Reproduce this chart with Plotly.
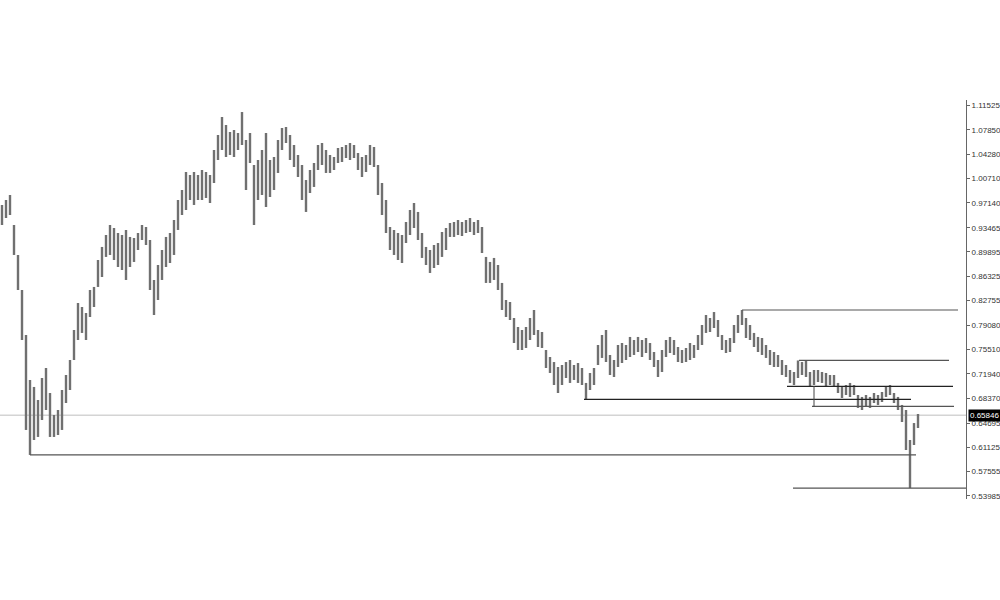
import plotly.graph_objects as go

# Bar highs / lows (price), one entry per bar
highs = [
    0.9681, 0.9754, 0.9828, 0.9386, 0.8945, 0.8429, 0.7767, 0.7105, 0.7002, 0.6810,
    0.7134, 0.7281, 0.6913, 0.6589, 0.6663, 0.6957, 0.7178, 0.7399, 0.7841, 0.8238,
    0.8179, 0.8091, 0.8429, 0.8474, 0.8871, 0.9063, 0.9239, 0.9386, 0.9342, 0.9268,
    0.9239, 0.9313, 0.9210, 0.9195, 0.9268, 0.9386, 0.9357, 0.9165, 0.8577, 0.8797,
    0.9018, 0.9210, 0.9268, 0.9460, 0.9754, 0.9901, 1.0166, 1.0122, 1.0166, 1.0122,
    1.0196, 1.0166, 1.0122, 1.0490, 1.0711, 1.0976, 1.0858, 1.0755, 1.0784, 1.0740,
    1.1049, 1.0637, 1.0740, 1.0269, 1.0343, 1.0490, 1.0740, 1.0343, 1.0387, 1.0637,
    1.0814, 1.0829, 1.0711, 1.0564, 1.0417, 1.0269, 1.0048, 1.0196, 1.0299, 1.0564,
    1.0593, 1.0490, 1.0417, 1.0387, 1.0520, 1.0534, 1.0564, 1.0593, 1.0564, 1.0446,
    1.0387, 1.0417, 1.0564, 1.0534, 1.0269, 1.0004, 0.9754, 0.9357, 0.9313, 0.9268,
    0.9239, 0.9430, 0.9607, 0.9710, 0.9578, 0.9268, 0.9063, 0.9018, 0.9092, 0.9121,
    0.9283, 0.9342, 0.9416, 0.9430, 0.9460, 0.9430, 0.9460, 0.9489, 0.9430, 0.9460,
    0.9357, 0.8916, 0.8842, 0.8901, 0.8797, 0.8533, 0.8282, 0.8253, 0.8017, 0.7885,
    0.7841, 0.7885, 0.8017, 0.8135, 0.7841, 0.7811, 0.7546, 0.7443, 0.7369, 0.7296,
    0.7325, 0.7369, 0.7399, 0.7325, 0.7355, 0.7281, 0.7061, 0.7208, 0.7281, 0.7620,
    0.7767, 0.7841, 0.7473, 0.7399, 0.7620, 0.7649, 0.7620, 0.7738, 0.7693, 0.7738,
    0.7693, 0.7723, 0.7649, 0.7517, 0.7399, 0.7546, 0.7693, 0.7738, 0.7693, 0.7590,
    0.7546, 0.7576, 0.7649, 0.7620, 0.7767, 0.7914, 0.8061, 0.8017, 0.8105, 0.7988,
    0.7767, 0.7693, 0.7723, 0.7914, 0.8061, 0.8135, 0.8017, 0.7914, 0.7797, 0.7738,
    0.7723, 0.7620, 0.7546, 0.7517, 0.7473, 0.7399, 0.7325, 0.7252, 0.7222, 0.7392,
    0.7369, 0.7399, 0.7222, 0.7252, 0.7252, 0.7222, 0.7208, 0.7178, 0.7178, 0.7061,
    0.7002, 0.7031, 0.7061, 0.7031, 0.6884, 0.6855, 0.6884, 0.6855, 0.6913, 0.6884,
    0.6928, 0.7002, 0.7031, 0.6913, 0.6855, 0.6737, 0.6663, 0.6221, 0.6471, 0.6604,
]
lows = [
    0.9386, 0.9489, 0.9533, 0.8945, 0.8429, 0.7693, 0.6369, 0.6001, 0.6221, 0.6266,
    0.6516, 0.6663, 0.6266, 0.6266, 0.6295, 0.6369, 0.6766, 0.6957, 0.7399, 0.7693,
    0.7797, 0.7693, 0.8032, 0.8179, 0.8474, 0.8621, 0.8916, 0.8945, 0.8871, 0.8768,
    0.8724, 0.8577, 0.8768, 0.8842, 0.9018, 0.9165, 0.9092, 0.8429, 0.8061, 0.8282,
    0.8577, 0.8768, 0.8827, 0.8945, 0.9313, 0.9533, 0.9607, 0.9754, 0.9681, 0.9754,
    0.9754, 0.9784, 0.9710, 1.0004, 1.0343, 1.0490, 1.0387, 1.0417, 1.0387, 1.0490,
    1.0564, 0.9901, 1.0299, 0.9386, 0.9754, 0.9828, 0.9651, 0.9798, 0.9901, 1.0152,
    1.0490, 1.0593, 1.0343, 1.0240, 1.0093, 0.9754, 0.9578, 0.9857, 0.9946, 1.0196,
    1.0269, 1.0152, 1.0152, 1.0196, 1.0299, 1.0313, 1.0372, 1.0343, 1.0372, 1.0196,
    1.0093, 1.0166, 1.0269, 1.0240, 0.9828, 0.9533, 0.9268, 0.9018, 0.8945, 0.8871,
    0.8827, 0.9121, 0.9239, 0.9342, 0.9165, 0.8901, 0.8797, 0.8680, 0.8753, 0.8797,
    0.8916, 0.9018, 0.9210, 0.9210, 0.9239, 0.9224, 0.9268, 0.9283, 0.9239, 0.9268,
    0.8974, 0.8533, 0.8533, 0.8577, 0.8429, 0.8135, 0.8032, 0.7988, 0.7649, 0.7546,
    0.7546, 0.7576, 0.7693, 0.7767, 0.7590, 0.7576, 0.7281, 0.7208, 0.7031, 0.6913,
    0.7031, 0.7134, 0.7061, 0.7105, 0.7061, 0.7031, 0.6819, 0.6957, 0.7031, 0.7325,
    0.7429, 0.7369, 0.7178, 0.7149, 0.7296, 0.7355, 0.7399, 0.7443, 0.7473, 0.7517,
    0.7443, 0.7502, 0.7399, 0.7296, 0.7149, 0.7222, 0.7443, 0.7502, 0.7473, 0.7369,
    0.7355, 0.7369, 0.7399, 0.7429, 0.7546, 0.7620, 0.7797, 0.7811, 0.7870, 0.7738,
    0.7546, 0.7502, 0.7517, 0.7649, 0.7797, 0.7914, 0.7723, 0.7693, 0.7590, 0.7517,
    0.7473, 0.7429, 0.7325, 0.7296, 0.7296, 0.7178, 0.7149, 0.7061, 0.7031, 0.7134,
    0.7178, 0.7149, 0.7002, 0.7031, 0.7075, 0.7061, 0.7002, 0.7031, 0.7002, 0.6913,
    0.6840, 0.6884, 0.6855, 0.6884, 0.6693, 0.6663, 0.6707, 0.6693, 0.6766, 0.6737,
    0.6781, 0.6855, 0.6884, 0.6766, 0.6663, 0.6486, 0.6074, 0.5514, 0.6148, 0.6398,
]

# Horizontal support / resistance lines: price level, start bar, end bar
line_levels = [0.6001, 0.8135, 0.7392, 0.7011, 0.6819, 0.6716, 0.5513]
line_starts = [7, 185, 199.25, 196.25, 145.5, 202.5, 197.75]
line_ends = [228.5, 239, 236.75, 237.75, 227.25, 238, 241]
line_colors = ["#555555", "#555555", "#555555", "#222222", "#222222", "#555555", "#555555"]

# vertical connector
vline_bar = 203
vline_from, vline_to = 0.7016, 0.6716

current_price = 0.65846

tick_values = [1.11525, 1.07850, 1.04280, 1.00710, 0.97140, 0.93465, 0.89895, 0.86325,
               0.82755, 0.79080, 0.75510, 0.71940, 0.68370, 0.64695, 0.61125, 0.57555, 0.53985]

fig = go.Figure()

xs, ys = [], []
for i, (h, l) in enumerate(zip(highs, lows)):
    xs += [i, i, None]
    ys += [l, h, None]
fig.add_trace(go.Scatter(x=xs, y=ys, mode="lines",
                         line=dict(color="#707070", width=2.4), hoverinfo="skip"))

for lvl, s, e, c in zip(line_levels, line_starts, line_ends, line_colors):
    fig.add_trace(go.Scatter(x=[s, e], y=[lvl, lvl], mode="lines",
                             line=dict(color=c, width=1.2), hoverinfo="skip"))
fig.add_trace(go.Scatter(x=[vline_bar, vline_bar], y=[vline_from, vline_to], mode="lines",
                         line=dict(color="#444444", width=1), hoverinfo="skip"))

fig.add_shape(type="line", xref="paper", x0=0, x1=1, y0=current_price, y1=current_price,
              line=dict(color="#d4d4d4", width=1.5), layer="below")

fig.add_annotation(xref="paper", x=1.0, y=current_price, xanchor="left", yanchor="middle",
                   text=f"{current_price:.5f}", showarrow=False, xshift=2,
                   font=dict(color="white", size=8, family="Liberation Sans"),
                   bgcolor="black", borderpad=1)

fig.update_layout(
    width=1000, height=600,
    paper_bgcolor="white", plot_bgcolor="white",
    margin=dict(l=0, r=34, t=100, b=101),
    showlegend=False,
    xaxis=dict(range=[-0.5, 241], visible=False, fixedrange=True),
    yaxis=dict(range=[0.53528, 1.12261], side="right", showgrid=False, zeroline=False,
               showline=True, linecolor="#666666", linewidth=1,
               ticks="outside", ticklen=3, tickcolor="#666666",
               tickvals=tick_values, ticktext=[f"{v:.5f}" for v in tick_values],
               tickfont=dict(size=8, color="#333333", family="Liberation Sans")),
)

fig.write_html("out.html", config={"displayModeBar": False},
               post_script="document.body.style.margin='0';document.body.style.overflow='hidden';")
